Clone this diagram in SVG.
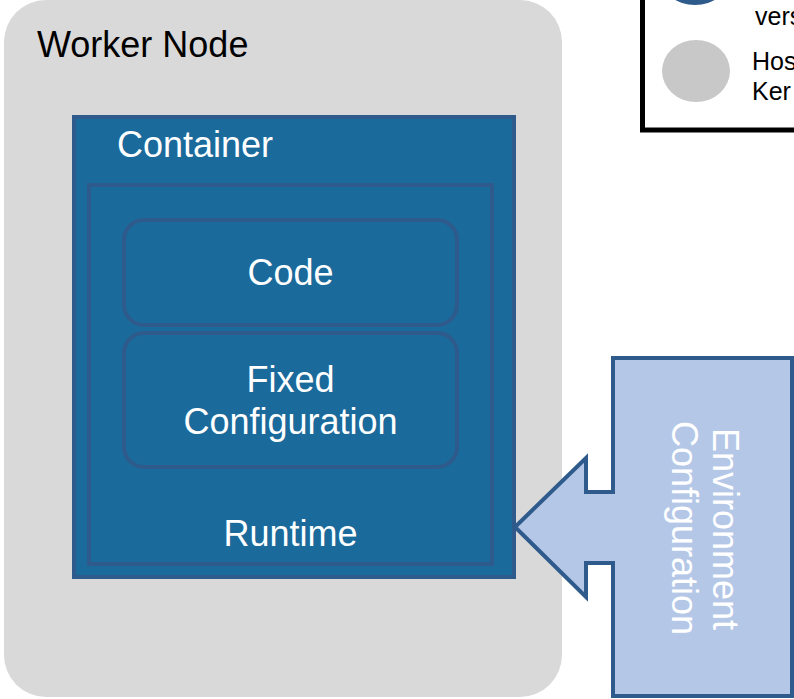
<svg xmlns="http://www.w3.org/2000/svg" width="794" height="699" viewBox="0 0 794 699">
  <style>
    text { font-family: "Liberation Sans", Arial, sans-serif; }
    .big { font-size: 36px; }
    .white { fill: #ffffff; }
    .dark { fill: #000000; }
    .legend { font-size: 25px; fill: #000000; }
    .blue { fill: #1b6a9c; stroke: #2e5a8c; stroke-width: 4; }
    .mid { text-anchor: middle; }
  </style>
  <rect width="794" height="699" fill="#ffffff"/>

  <!-- legend panel -->
  <g id="legend">
    <rect x="642.5" y="-20" width="170" height="150" fill="#ffffff" stroke="#000000" stroke-width="5"/>
    <ellipse cx="695" cy="-22" rx="34" ry="27" fill="#2e5a8c"/>
    <text class="legend" x="755" y="25">vers</text>
    <ellipse cx="696" cy="71" rx="34" ry="31" fill="#c8c8c8"/>
    <text class="legend" x="752" y="70">Hos</text>
    <text class="legend" x="752" y="100">Ker</text>
  </g>

  <!-- worker node -->
  <g id="worker-node">
    <rect x="4" y="0" width="558" height="697" rx="42" ry="42" fill="#d9d9d9"/>
    <text class="big dark" x="37" y="57">Worker Node</text>
  </g>

  <!-- container -->
  <g id="container">
    <rect class="blue" x="74" y="117" width="440" height="460"/>
    <text class="big white" x="117" y="157">Container</text>
  </g>

  <!-- runtime -->
  <g id="runtime">
    <rect class="blue" x="89" y="185" width="403" height="379"/>
    <text class="big white mid" x="290.5" y="546">Runtime</text>
  </g>

  <!-- code -->
  <g id="code">
    <rect class="blue" x="124" y="220" width="333" height="105" rx="20" ry="20"/>
    <text class="big white mid" x="290.5" y="285">Code</text>
  </g>

  <!-- fixed configuration -->
  <g id="fixed-configuration">
    <rect class="blue" x="124" y="333" width="333" height="134" rx="20" ry="20"/>
    <text class="big white mid" x="290.5" y="392">Fixed</text>
    <text class="big white mid" x="290.5" y="434">Configuration</text>
  </g>

  <!-- environment configuration callout arrow -->
  <g id="connectors">
    <g id="environment-configuration">
      <polygon points="613,358 792,358 792,696 613,696 613,563 586,563 586,597 515,527 586,458 586,492 613,492"
               fill="#b4c7e7" stroke="#2e5a8c" stroke-width="4" stroke-linejoin="miter"/>
      <text class="big white mid" transform="translate(713,529) rotate(90)">Environment</text>
      <text class="big white mid" transform="translate(672,528) rotate(90)">Configuration</text>
    </g>
  </g>
</svg>
